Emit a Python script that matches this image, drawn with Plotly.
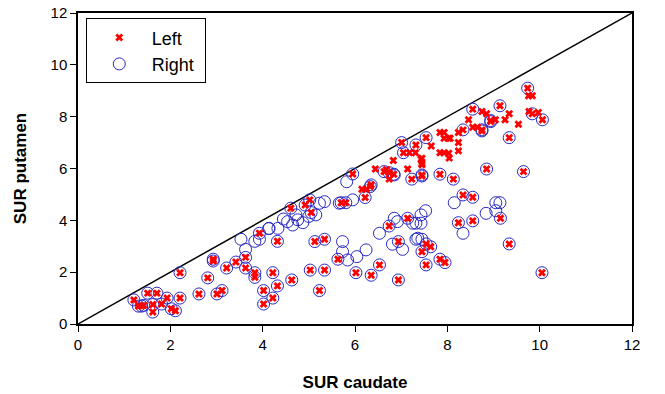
import plotly.graph_objects as go

# Points where Left and Right coincide (drawn as circle with x)
both_x = [1.21, 1.31, 1.38, 1.42, 1.51, 1.62, 1.71, 1.62, 1.81, 1.93, 2.02, 2.11, 2.21, 2.21,
          2.62, 2.81, 2.93, 2.93, 3.01, 3.12, 3.22, 3.42, 3.63, 3.63, 3.83, 3.83, 3.93, 4.02,
          4.02, 4.22, 4.22, 4.32, 4.32, 4.63, 4.61, 4.92, 5.02, 5.05, 5.13, 5.34, 5.03, 5.34,
          5.23, 5.70, 5.80, 6.22, 5.95, 6.35, 6.33, 5.63, 6.02, 6.35, 6.53, 6.94, 6.74, 6.94,
          7.14, 6.63, 6.74, 7.23, 7.45, 7.45, 7.84, 8.13, 8.85, 9.65, 7.01, 7.05, 7.32, 7.54,
          8.34, 8.75, 8.75, 8.55, 8.94, 8.94, 9.14, 9.34, 9.74, 9.84, 10.06, 8.34, 8.55, 8.24,
          8.55, 9.15, 9.34, 10.05, 7.54, 7.64, 7.45, 7.54, 7.84, 7.95, 6.84]
both_y = [0.93, 0.69, 0.69, 0.72, 1.19, 0.75, 1.19, 0.46, 0.77, 1.00, 0.59, 0.51, 1.00, 1.98,
          1.16, 1.78, 2.43, 2.50, 1.16, 1.29, 2.16, 2.39, 2.57, 2.16, 1.98, 1.80, 3.50, 1.29,
          0.77, 1.98, 1.00, 3.19, 1.47, 1.70, 4.47, 4.59, 4.79, 4.30, 3.18, 3.27, 2.08, 2.08,
          1.29, 4.68, 4.68, 4.88, 5.79, 5.37, 5.30, 2.50, 1.98, 1.88, 2.28, 1.70, 3.78, 3.18,
          4.08, 5.88, 5.84, 5.59, 5.71, 5.75, 5.78, 5.59, 5.98, 5.88, 7.00, 6.61, 6.91, 7.19,
          7.49, 7.49, 7.45, 8.29, 7.81, 7.85, 8.42, 7.19, 9.10, 8.11, 7.88, 4.98, 4.89, 3.91,
          3.98, 4.08, 3.09, 1.98, 3.09, 2.98, 2.79, 2.28, 2.50, 2.37, 5.78]

# Left-only points
left_only_x = [6.44, 6.74, 6.15, 6.24, 6.83, 7.18, 7.31, 7.43, 7.45, 7.14, 9.76, 9.84, 9.77,
               9.97, 9.34, 9.25, 9.54, 9.04, 8.75, 8.85, 8.46, 8.55, 8.65, 8.24, 8.24, 8.24,
               7.84, 7.93, 8.03, 7.93, 8.06, 7.65, 7.84, 7.93, 8.03, 8.04, 7.45, 7.45, 6.68]
left_only_y = [5.98, 5.59, 5.20, 5.20, 6.31, 6.61, 6.61, 6.36, 6.14, 5.98, 8.81, 8.81, 8.20,
               8.16, 8.11, 7.88, 7.71, 7.88, 8.20, 8.11, 7.88, 7.59, 7.59, 7.39, 7.00, 6.68,
               7.39, 7.39, 7.17, 7.17, 7.17, 6.87, 6.61, 6.61, 6.59, 6.40, 6.40, 6.20, 5.95]

# Right-only points
right_only_x = [5.82, 3.53, 3.63, 3.83, 3.93, 4.13, 4.54, 4.65, 4.76, 4.87, 4.72, 5.15, 5.34,
                5.23, 5.95, 5.66, 4.14, 4.33, 5.73, 5.73, 5.84, 6.04, 6.24, 6.53, 6.85, 6.92,
                7.03, 6.81, 7.32, 7.32, 8.15, 8.34, 8.84, 9.05, 9.14, 9.05, 7.53, 7.43, 7.25,
                7.43, 7.36, 7.45, 6.85, 4.45, 5.00]
right_only_y = [5.49, 3.27, 2.88, 3.19, 3.27, 3.68, 3.95, 3.82, 4.02, 3.91, 4.21, 4.21, 4.72,
                4.66, 4.79, 4.66, 3.69, 3.69, 3.18, 2.79, 2.47, 2.60, 2.86, 3.50, 4.08, 3.95,
                2.88, 3.08, 3.89, 3.27, 4.68, 3.50, 4.27, 4.68, 4.68, 4.37, 4.37, 4.21, 3.89,
                3.89, 3.31, 3.27, 5.75, 4.05, 4.15]

left_x = both_x + left_only_x
left_y = both_y + left_only_y
right_x = both_x + right_only_x
right_y = both_y + right_only_y

identity = [0, 12]
x_ticks = [0, 2, 4, 6, 8, 10, 12]
y_ticks = [0, 2, 4, 6, 8, 10, 12]

FONT = "Arial, Liberation Sans, sans-serif"

fig = go.Figure()
fig.add_trace(go.Scatter(x=identity, y=identity, mode="lines",
                         line=dict(color="black", width=1.5), showlegend=False,
                         hoverinfo="skip"))
fig.add_trace(go.Scatter(x=right_x, y=right_y, mode="markers", name="Right\u00a0",
                         marker=dict(symbol="circle-open", size=12,
                                     color="#2a2ac4", line=dict(width=1))))
fig.add_trace(go.Scatter(x=left_x, y=left_y, mode="markers", name="Left",
                         marker=dict(symbol="x", size=7, color="#ff0000",
                                     line=dict(width=0))))

axis_common = dict(showgrid=False, zeroline=False, showline=True, linecolor="black",
                   linewidth=1.5, mirror=True, ticks="outside", ticklen=6,
                   tickcolor="black", tickwidth=1, automargin=False,
                   tickfont=dict(family=FONT, size=15, color="black"))

fig.update_xaxes(range=[0, 12], tickvals=x_ticks,
                 title=dict(text="<b>SUR caudate</b>", standoff=24,
                            font=dict(family=FONT, size=17, color="black")),
                 **axis_common)
fig.update_yaxes(range=[0, 12], tickvals=y_ticks,
                 title=dict(text="<b>SUR putamen</b>", standoff=20,
                            font=dict(family=FONT, size=17, color="black")),
                 **axis_common)

fig.update_layout(
    width=665, height=394,
    margin=dict(l=78, r=33, t=13, b=70),
    plot_bgcolor="white", paper_bgcolor="white",
    font=dict(family=FONT, color="black"),
    legend=dict(x=0.014, y=0.983, xanchor="left", yanchor="top",
                bordercolor="black", borderwidth=1, bgcolor="white",
                traceorder="reversed", itemwidth=55,
                font=dict(family=FONT, size=18, color="black")),
)

fig.write_html("out.html", config={"displayModeBar": False},
               post_script="document.body.style.margin='0';")
